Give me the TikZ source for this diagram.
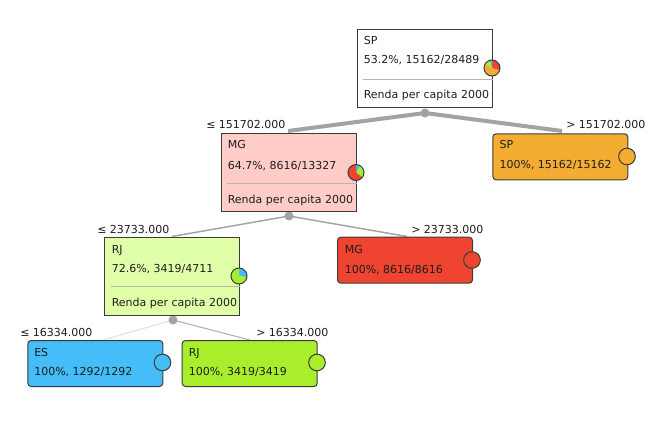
\documentclass[tikz,border=0pt]{standalone}
\usepackage{fontspec}
\setmainfont{DejaVu Sans}
\begin{document}
\begin{tikzpicture}[x=0.75pt,y=-0.75pt,
  font=\fontsize{8.25}{10}\selectfont,
  every node/.append style={text=txt},
  inbox/.style={draw=bord, line width=0.75pt, anchor=north west, inner sep=0pt, minimum width=101.25pt, minimum height=58.5pt},
  leaf/.style={draw=bord, line width=0.75pt, anchor=north west, inner sep=0pt, minimum width=101.25pt, minimum height=34.5pt, rounded corners=2.5pt},
  lbl/.style={anchor=base west, inner sep=0pt},
  sepline/.style={draw=sepc, line width=0.75pt},
  hub/.style={circle, fill=hubc, inner sep=0pt, minimum size=6.5pt},
  pieb/.style={circle, draw=bord, line width=0.75pt, inner sep=0pt, minimum size=12pt},
  dot/.style={circle, draw=bord, line width=0.75pt, inner sep=0pt, minimum size=12.5pt},
  e1/.style={draw=hubc, line width=3pt},
  e2/.style={draw=hubc, line width=1.1pt},
  e3a/.style={draw=light3, line width=0.8pt},
  e3b/.style={draw=mid3, line width=0.8pt}]
\definecolor{txt}{HTML}{1E1E1E}
\definecolor{bord}{HTML}{3C3C3C}
\definecolor{sepc}{HTML}{B4B4B4}
\definecolor{hubc}{HTML}{A3A3A3}
\definecolor{light3}{HTML}{E2E2E2}
\definecolor{mid3}{HTML}{B2B2B2}
\definecolor{cSP}{HTML}{F4AC32}
\definecolor{cMG}{HTML}{EE4430}
\definecolor{cRJ}{HTML}{A9EE2B}
\definecolor{cES}{HTML}{44BDF8}
\definecolor{pinkf}{HTML}{FFCCC7}
\definecolor{limef}{HTML}{E1FFA8}
\useasboundingbox (0,0) rectangle (670,431);
\fill[white] (0,0) rectangle (670,431);

% hubs
\node[hub] (h1) at (425,113) {};
\node[hub] (h2) at (289,216) {};
\node[hub] (h3) at (173,320) {};
\coordinate (c1l) at (288,131);
\coordinate (c1r) at (562,131);
\coordinate (c2l) at (172,236.5);
\coordinate (c2r) at (407,236.5);
\coordinate (c3l) at (103,340);
\coordinate (c3r) at (250,340);
\draw[e1] (h1.center) -- (c1l);
\draw[e1] (h1.center) -- (c1r);
\draw[e2] (h2.center) -- (c2l);
\draw[e2] (h2.center) -- (c2r);
\draw[e3a] (h3.center) -- (c3l);
\draw[e3b] (h3.center) -- (c3r);
\node[hub] (h1b) at (h1) {};
\node[hub] (h2b) at (h2) {};
\node[hub] (h3b) at (h3) {};

% root box
\node[inbox, fill=white] (root) at (357,29.5) {};
\node[lbl] (rootA) at (363.5,45) {SP};
\node[lbl] (rootB) at (363.5,64) {53.2\%, 15162/28489};
\draw[sepline] (363,80) -- (root.east |- 0,80);
\node[lbl] (rootC) at (363.5,99) {Renda per capita 2000};
\coordinate (rp) at (492,68);
\fill[cMG] (rp) -- ++(90:6pt) arc[start angle=90, end angle=-19, radius=6pt] -- cycle;
\fill[cSP] (rp) -- ++(-19:6pt) arc[start angle=-19, end angle=-210.5, radius=6pt] -- cycle;
\fill[cRJ] (rp) -- ++(-210.5:6pt) arc[start angle=-210.5, end angle=-253.7, radius=6pt] -- cycle;
\fill[cES] (rp) -- ++(-253.7:6pt) arc[start angle=-253.7, end angle=-270, radius=6pt] -- cycle;
\node[pieb] (rootpie) at (rp) {};

% MG internal box
\node[inbox, fill=pinkf] (mgi) at (221,133.3) {};
\node[lbl] (mgiA) at (227.5,148.5) {MG};
\node[lbl] (mgiB) at (227.5,169) {64.7\%, 8616/13327};
\draw[sepline] (227,183) -- (mgi.east |- 0,183);
\node[lbl] (mgiC) at (227.5,203) {Renda per capita 2000};
\coordinate (mp) at (356,172.5);
\fill[cES] (mp) -- ++(90:6pt) arc[start angle=90, end angle=55, radius=6pt] -- cycle;
\fill[cRJ] (mp) -- ++(55:6pt) arc[start angle=55, end angle=-37.5, radius=6pt] -- cycle;
\fill[cMG] (mp) -- ++(-37.5:6pt) arc[start angle=-37.5, end angle=-270, radius=6pt] -- cycle;
\node[pieb] (mgipie) at (mp) {};

% RJ internal box
\node[inbox, fill=limef] (rji) at (104.3,236.7) {};
\node[lbl] (rjiA) at (111.5,253) {RJ};
\node[lbl] (rjiB) at (111.5,272.5) {72.6\%, 3419/4711};
\draw[sepline] (111,286.7) -- (rji.east |- 0,286.7);
\node[lbl] (rjiC) at (111.5,306) {Renda per capita 2000};
\coordinate (jp) at (239,276);
\fill[cES] (jp) -- ++(90:6pt) arc[start angle=90, end angle=-8.7, radius=6pt] -- cycle;
\fill[cRJ] (jp) -- ++(-8.7:6pt) arc[start angle=-8.7, end angle=-270, radius=6pt] -- cycle;
\node[pieb] (rjipie) at (jp) {};

% leaves
\node[leaf, fill=cSP] (spl) at (492.3,133.3) {};
\node[lbl] (splA) at (499.3,148.5) {SP};
\node[lbl] (splB) at (499.3,168) {100\%, 15162/15162};
\node[dot, fill=cSP] (spldot) at (627,156.5) {};

\node[leaf, fill=cMG] (mgl) at (337,236.7) {};
\node[lbl] (mglA) at (344.5,253) {MG};
\node[lbl] (mglB) at (344.5,273) {100\%, 8616/8616};
\node[dot, fill=cMG] (mgldot) at (472,260) {};

\node[leaf, fill=cES] (esl) at (27.3,340) {};
\node[lbl] (eslA) at (34,356.5) {ES};
\node[lbl] (eslB) at (34,375.5) {100\%, 1292/1292};
\node[dot, fill=cES] (esldot) at (162.5,362.5) {};

\node[leaf, fill=cRJ] (rjl) at (181.7,340) {};
\node[lbl] (rjlA) at (188.5,356.5) {RJ};
\node[lbl] (rjlB) at (188.5,375.5) {100\%, 3419/3419};
\node[dot, fill=cRJ] (rjldot) at (317,362.5) {};

% split labels
\node[lbl] (l1a) at (206,128.5) {≤ 151702.000};
\node[lbl] (l1b) at (566,128.5) {> 151702.000};
\node[lbl] (l2a) at (97,233) {≤ 23733.000};
\node[lbl] (l2b) at (411,233) {> 23733.000};
\node[lbl] (l3a) at (20,336) {≤ 16334.000};
\node[lbl] (l3b) at (256,336) {> 16334.000};
\end{tikzpicture}
\end{document}
